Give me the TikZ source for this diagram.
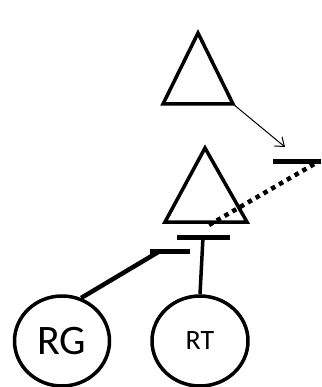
\documentclass[tikz,border=0pt]{standalone}
\usepackage{fontspec}
\setmainfont{Carlito}
\usetikzlibrary{shapes.geometric,arrows.meta}
\tikzset{
  tri/.style={line width=3.5pt, line join=miter},
  bar/.style={line width=5pt},
  link/.style={line width=4.5pt},
  vlink/.style={line width=3.5pt},
  dotlink/.style={line width=4.5pt, dash pattern=on 4.5pt off 4.5pt},
  ring/.style={ellipse, draw, line width=3.5pt, inner sep=0pt},
  thinarrow/.style={line width=1pt, -{Straight Barb[length=8pt,width=12pt]}}
}
\begin{document}
\begin{tikzpicture}[x=1pt,y=-1pt]
\useasboundingbox (0,0) rectangle (321,387);
% top triangle
\coordinate (t1a) at (198,33);
\coordinate (t1l) at (163,104);
\coordinate (t1r) at (233,104);
\draw[tri] (t1a) -- (t1r) -- (t1l) -- cycle;
% lower triangle
\coordinate (t2a) at (205,148);
\coordinate (t2l) at (165,222);
\coordinate (t2r) at (247,222);
\draw[tri] (t2a) -- (t2r) -- (t2l) -- cycle;
% right bar
\coordinate (b1l) at (273,162);
\coordinate (b1r) at (321,162);
\draw[bar] (b1l) -- (b1r);
% bar under triangle
\coordinate (b2l) at (177,237);
\coordinate (b2r) at (230,237);
\coordinate (b2m) at (203,237);
\draw[bar] (b2l) -- (b2r);
% RG target bar
\coordinate (b3l) at (150,251);
\coordinate (b3r) at (190,251);
\coordinate (b3m) at (160,251);
\draw[bar] (b3l) -- (b3r);
% circles
\node[ring, minimum width=95pt, minimum height=90pt] (RG) at (62,341) {};
\node[font=\fontsize{42}{42}\selectfont] at (RG.center) {RG};
\node[ring, minimum width=96pt, minimum height=90pt] (RT) at (200,341) {};
\node[font=\fontsize{28}{28}\selectfont] at (RT.center) {RT};
% connectors
\coordinate (arrend) at (285,147);
\draw[thinarrow] (t1r) -- (arrend);
\coordinate (dstart) at (209,225);
\coordinate (dend) at (316,163);
\draw[dotlink] (dstart) -- (dend);
\draw[vlink] (b2m) -- (RT.north);
\draw[link] (RG.66) -- (b3m);
\end{tikzpicture}
\end{document}
